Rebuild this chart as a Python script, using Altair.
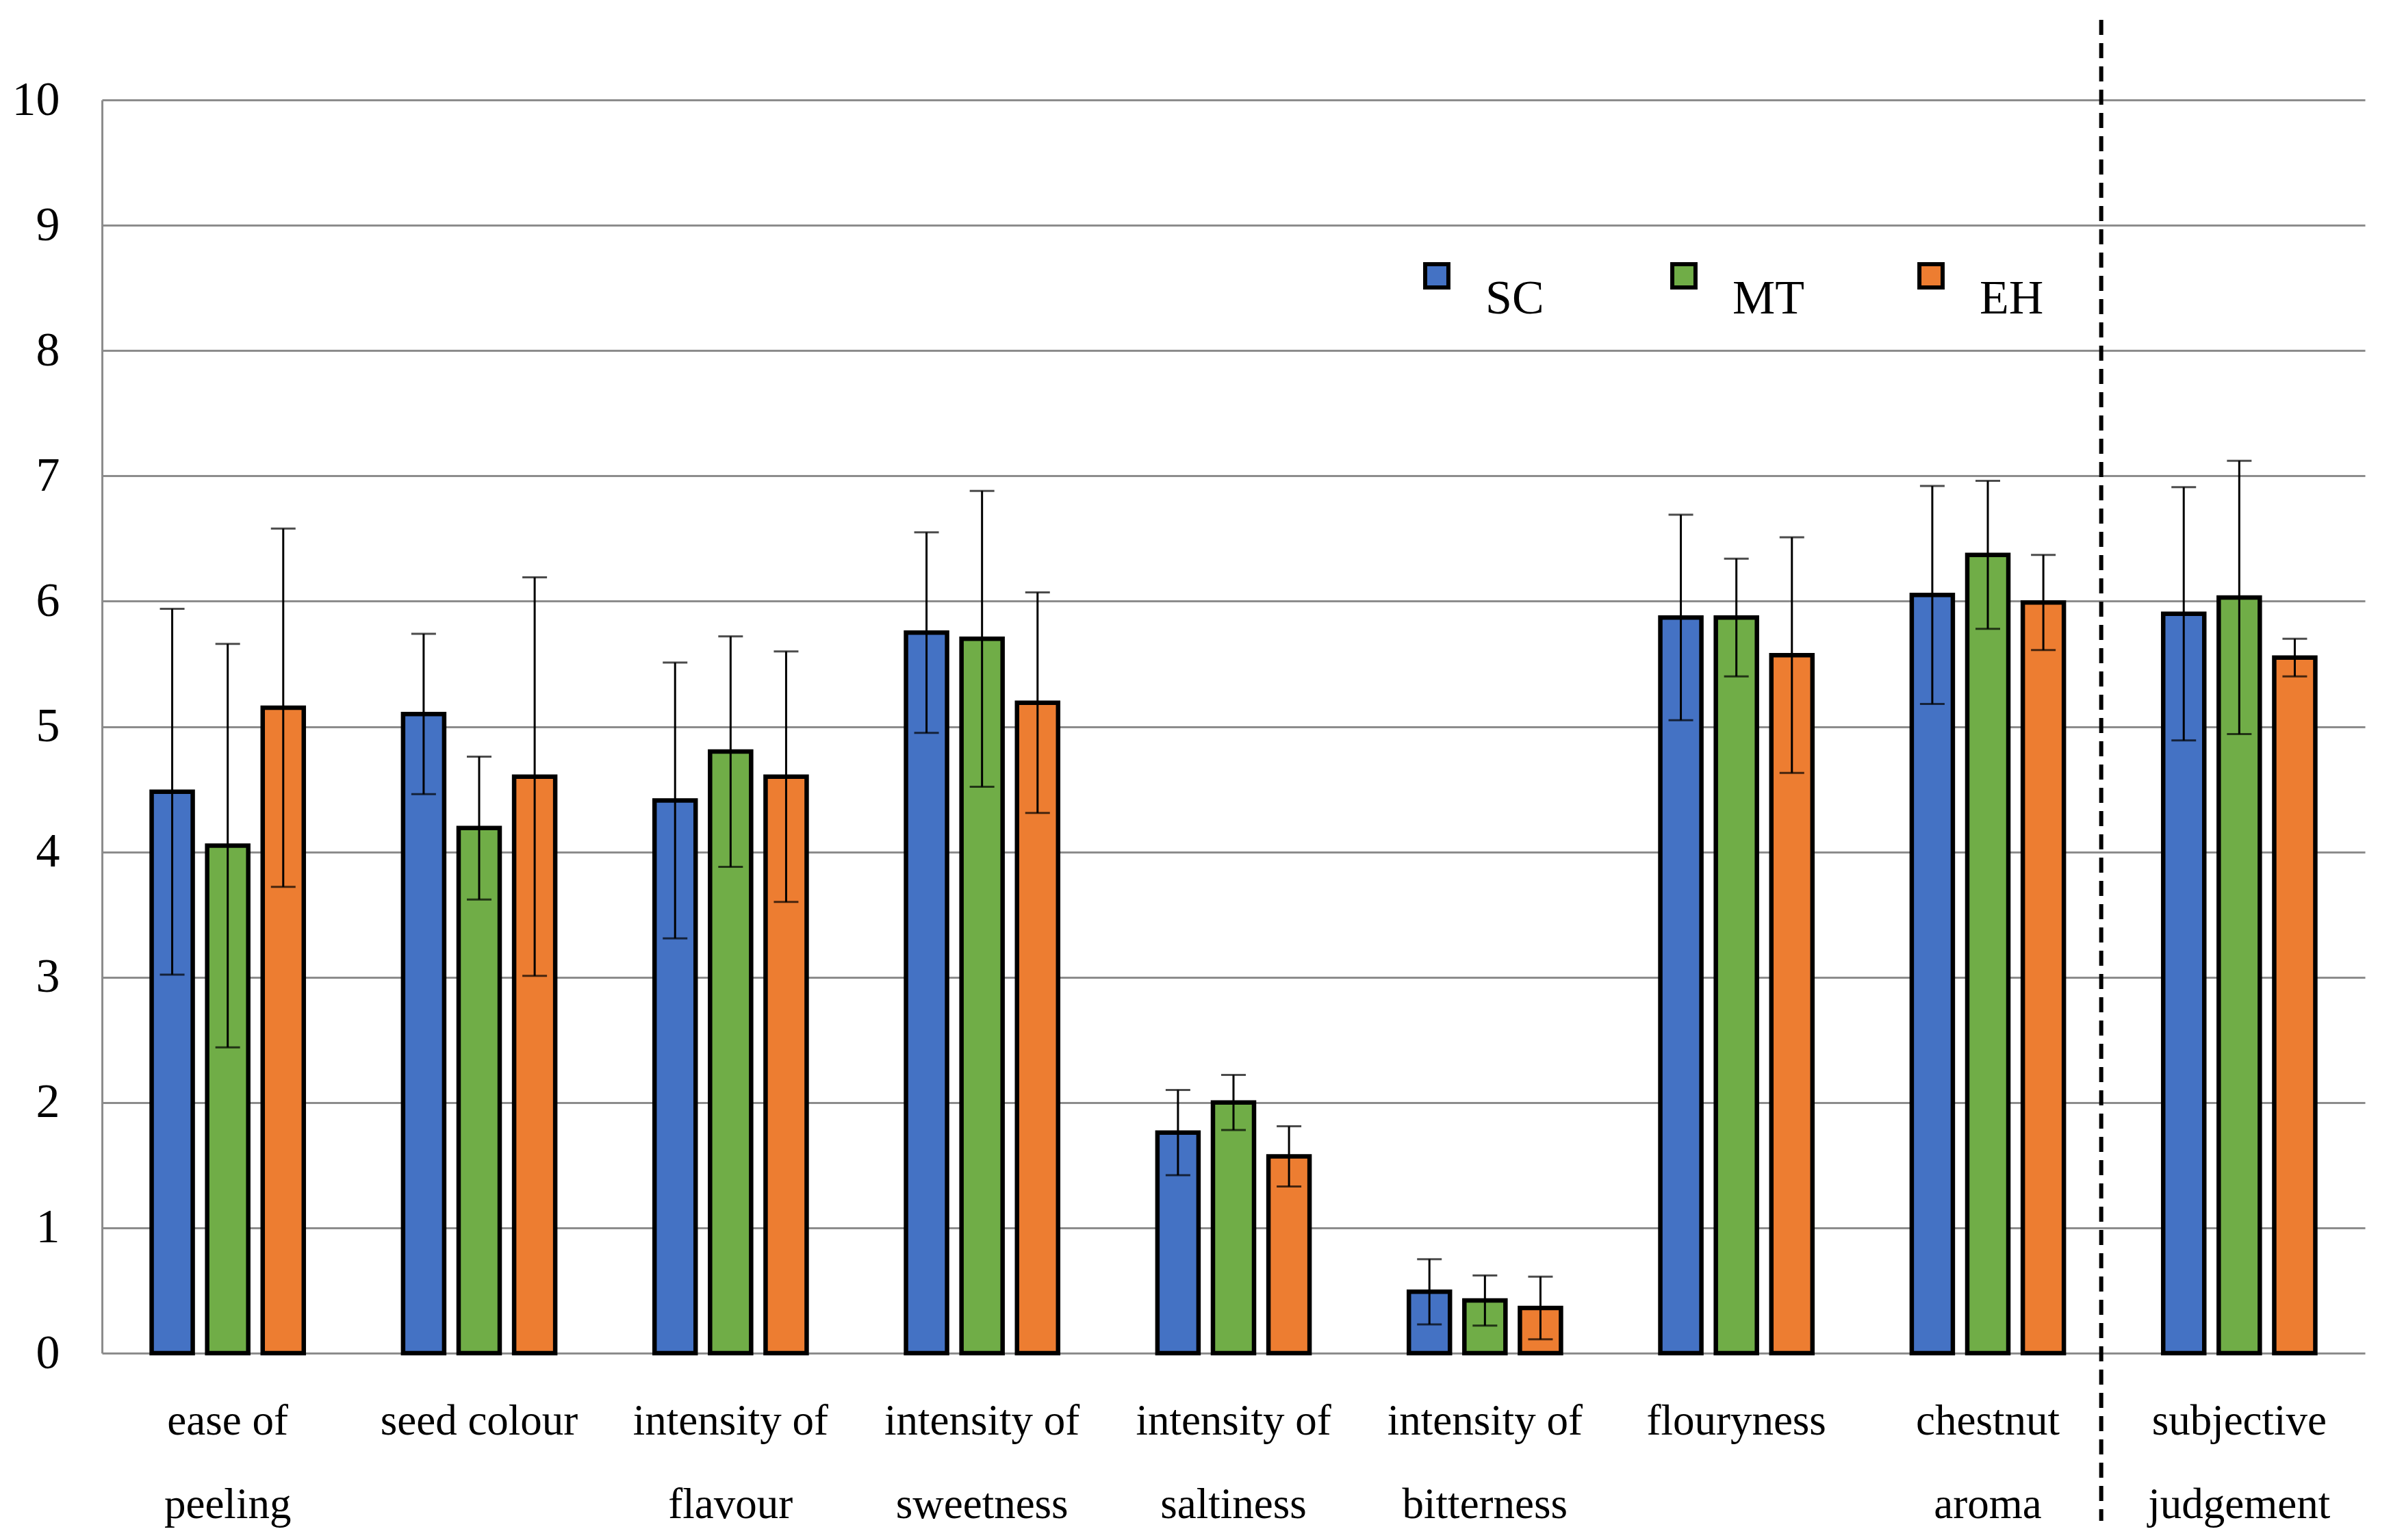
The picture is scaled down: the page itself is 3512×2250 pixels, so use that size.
import altair as alt
import pandas as pd

CATEGORIES = ["ease of|peeling", "seed colour", "intensity of|flavour", "intensity of|sweetness",
              "intensity of|saltiness", "intensity of|bitterness", "flouryness", "chestnut|aroma",
              "subjective|judgement"]
SERIES = ["SC", "MT", "EH"]
COLORS = ["#4472C4", "#70AD47", "#ED7D31"]

SC_MEAN = [4.48, 5.10, 4.41, 5.75, 1.76, 0.49, 5.87, 6.05, 5.90]
SC_SD = [1.46, 0.64, 1.10, 0.80, 0.34, 0.26, 0.82, 0.87, 1.01]
MT_MEAN = [4.05, 4.19, 4.80, 5.70, 2.00, 0.42, 5.87, 6.37, 6.03]
MT_SD = [1.61, 0.57, 0.92, 1.18, 0.22, 0.20, 0.47, 0.59, 1.09]
EH_MEAN = [5.15, 4.60, 4.60, 5.19, 1.57, 0.36, 5.57, 5.99, 5.55]
EH_SD = [1.43, 1.59, 1.00, 0.88, 0.24, 0.25, 0.94, 0.38, 0.15]

Y_TICKS = list(range(0, 11))

rows = []
for s, means, sds in [("SC", SC_MEAN, SC_SD), ("MT", MT_MEAN, MT_SD), ("EH", EH_MEAN, EH_SD)]:
    for c, m, d in zip(CATEGORIES, means, sds):
        rows.append({"category": c, "series": s, "mean": m, "sd": d})
df = pd.DataFrame(rows)

W, H = 3306, 1831
STEP = W / len(CATEGORIES)
FONT = "Liberation Serif"

x_enc = alt.X("category:N", sort=CATEGORIES,
              scale=alt.Scale(domain=CATEGORIES, paddingInner=0.395, paddingOuter=0.1975),
              axis=alt.Axis(title=None, labelAngle=0, ticks=False, domain=False,
                            labelFont=FONT, labelFontSize=63, labelColor="black",
                            labelPadding=68, labelLineHeight=122, labelBaseline="top",
                            labelLimit=800, labelOverlap=False,
                            labelExpr="split(datum.label, '|')"))
xoff_enc = alt.XOffset("series:N", sort=SERIES,
                       scale=alt.Scale(domain=SERIES, paddingInner=0.26, paddingOuter=0))

base = alt.Chart(df).transform_calculate(
    lo="datum.mean - datum.sd", hi="datum.mean + datum.sd"
)

bars = base.mark_bar(stroke="black", strokeWidth=6.5).encode(
    x=x_enc,
    xOffset=xoff_enc,
    y=alt.Y("mean:Q", scale=alt.Scale(domain=[0, 10], nice=False),
            axis=alt.Axis(title=None, values=Y_TICKS, format="d", grid=True, gridColor="#8c8c8c",
                          gridWidth=3, domain=True, domainColor="#8c8c8c", domainWidth=3,
                          ticks=False, labelFont=FONT, labelFontSize=70, labelColor="black",
                          labelPadding=62)),
    color=alt.Color("series:N", sort=SERIES,
                    scale=alt.Scale(domain=SERIES, range=COLORS),
                    legend=alt.Legend(title=None, orient="none", legendX=1915, legendY=222,
                                      direction="horizontal", symbolType="square",
                                      symbolSize=1150, symbolStrokeColor="black",
                                      symbolStrokeWidth=6, labelFont=FONT, labelFontSize=70,
                                      labelColor="black", labelOffset=36, columnPadding=150,
                                      gridAlign="all", labelBaseline="top")),
)

err = base.mark_rule(color="black", strokeWidth=3).encode(
    x=alt.X("category:N", sort=CATEGORIES),
    xOffset=alt.XOffset("series:N", sort=SERIES),
    y="lo:Q",
    y2="hi:Q",
)

cap_lo = base.mark_tick(color="black", thickness=3, size=36).encode(
    x=alt.X("category:N", sort=CATEGORIES),
    xOffset=alt.XOffset("series:N", sort=SERIES),
    y="lo:Q",
)
cap_hi = base.mark_tick(color="black", thickness=3, size=36).encode(
    x=alt.X("category:N", sort=CATEGORIES),
    xOffset=alt.XOffset("series:N", sort=SERIES),
    y="hi:Q",
)

sep = alt.Chart(pd.DataFrame({"k": [0]})).mark_rule(
    color="black", strokeWidth=6, strokeDash=[22, 12]
).encode(
    x=alt.value(8 * STEP - 18),
    y=alt.value(-117),
    y2=alt.value(2076),
)

chart = alt.layer(bars, err, cap_lo, cap_hi, sep).properties(
    width=W, height=H,
    autosize=alt.AutoSizeParams(type="none"),
    padding={"left": 141, "top": 138, "right": 49, "bottom": 255},
    background="white",
).configure_view(strokeWidth=0)

chart.save("out.html", embed_options={"renderer": "svg", "actions": False})
